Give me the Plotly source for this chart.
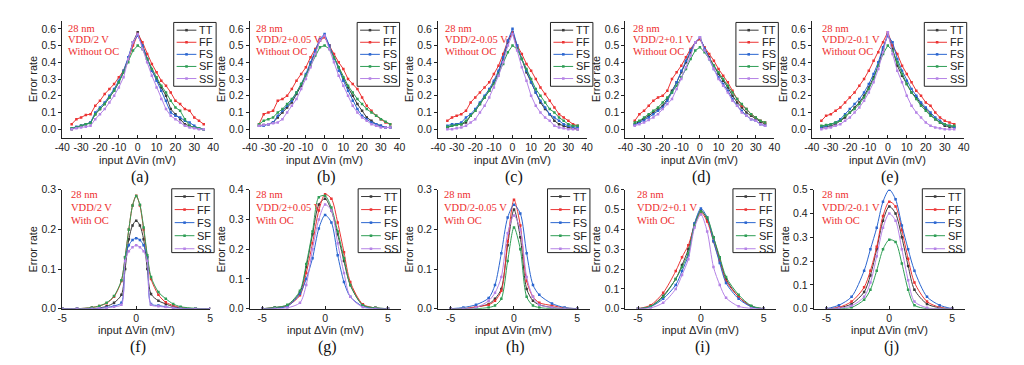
import plotly.graph_objects as go

W, H = 1024, 365

# ---------------- data ----------------
XT = [-35, -32.5, -30, -27.5, -25, -22.5, -20, -17.5, -15, -12.5, -10, -7.5, -5, -2.5, 0,
      2.5, 5, 7.5, 10, 12.5, 15, 17.5, 20, 22.5, 25, 27.5, 30, 32.5, 35]
XF = [-5, -4, -3, -2.5, -2, -1.5, -1, -0.75, -0.5, -0.25, 0, 0.25, 0.5, 0.75, 1, 1.5, 2, 2.5, 3, 4, 5]
XB = [-5, -4, -3, -2, -1.5, -1, -0.5, 0, 0.5, 1, 1.5, 2, 3, 4, 5]

SERIES = ["TT", "FF", "FS", "SF", "SS"]
COLORS = ["#3a3a3a", "#ec3434", "#2b66d0", "#2f9e55", "#b583e6"]

# (a) VDD/2 V, without OC
A_TT = [0, 0.01, 0.02, 0.03, 0.04, 0.09, 0.12, 0.15, 0.19, 0.23, 0.28, 0.34, 0.42, 0.52, 0.58, 0.5, 0.42, 0.35, 0.3, 0.25, 0.2, 0.12, 0.09, 0.06, 0.03, 0.02, 0.01, 0.005, 0]
A_FF = [0.03, 0.06, 0.07, 0.085, 0.09, 0.14, 0.17, 0.21, 0.24, 0.27, 0.31, 0.35, 0.42, 0.5, 0.57, 0.52, 0.45, 0.39, 0.34, 0.29, 0.26, 0.22, 0.17, 0.15, 0.12, 0.11, 0.07, 0.05, 0.03]
A_FS = [0.005, 0.015, 0.02, 0.03, 0.04, 0.1, 0.13, 0.16, 0.2, 0.24, 0.29, 0.35, 0.43, 0.52, 0.56, 0.5, 0.42, 0.35, 0.29, 0.23, 0.17, 0.1, 0.08, 0.07, 0.05, 0.04, 0.02, 0.005, 0]
A_SF = [0.005, 0.01, 0.02, 0.03, 0.035, 0.09, 0.12, 0.15, 0.19, 0.23, 0.28, 0.34, 0.4, 0.47, 0.5, 0.48, 0.42, 0.36, 0.31, 0.26, 0.22, 0.17, 0.13, 0.11, 0.06, 0.02, 0.01, 0.005, 0]
A_SS = [0, 0.005, 0.01, 0.015, 0.02, 0.06, 0.09, 0.12, 0.16, 0.2, 0.25, 0.31, 0.42, 0.52, 0.57, 0.48, 0.4, 0.32, 0.25, 0.18, 0.12, 0.08, 0.06, 0.04, 0.02, 0.01, 0.005, 0, 0]

# (b) VDD/2+0.05 V, without OC
B_TT = [0.02, 0.025, 0.03, 0.04, 0.07, 0.1, 0.13, 0.16, 0.21, 0.26, 0.32, 0.39, 0.46, 0.53, 0.56, 0.5, 0.43, 0.37, 0.3, 0.25, 0.2, 0.15, 0.11, 0.07, 0.05, 0.03, 0.02, 0.01, 0.01]
B_FF = [0.03, 0.09, 0.1, 0.11, 0.17, 0.18, 0.2, 0.24, 0.29, 0.33, 0.37, 0.43, 0.48, 0.53, 0.55, 0.5, 0.45, 0.4, 0.36, 0.3, 0.27, 0.24, 0.19, 0.14, 0.11, 0.08, 0.06, 0.04, 0.03]
B_FS = [0.02, 0.02, 0.03, 0.04, 0.08, 0.11, 0.14, 0.17, 0.22, 0.27, 0.33, 0.4, 0.47, 0.54, 0.57, 0.5, 0.42, 0.35, 0.29, 0.23, 0.17, 0.12, 0.08, 0.06, 0.04, 0.03, 0.02, 0.01, 0.01]
B_SF = [0.03, 0.05, 0.06, 0.07, 0.1, 0.12, 0.15, 0.18, 0.22, 0.27, 0.32, 0.38, 0.44, 0.49, 0.5, 0.48, 0.43, 0.37, 0.31, 0.26, 0.22, 0.18, 0.15, 0.12, 0.1, 0.08, 0.06, 0.045, 0.03]
B_SS = [0.02, 0.025, 0.03, 0.035, 0.04, 0.06, 0.1, 0.14, 0.18, 0.24, 0.3, 0.37, 0.45, 0.53, 0.56, 0.48, 0.4, 0.32, 0.26, 0.2, 0.14, 0.1, 0.07, 0.05, 0.03, 0.02, 0.01, 0.01, 0.01]

# (c) VDD/2-0.05 V, without OC
C_TT = [0.01, 0.02, 0.03, 0.03, 0.04, 0.08, 0.11, 0.15, 0.19, 0.23, 0.28, 0.34, 0.42, 0.52, 0.58, 0.49, 0.42, 0.34, 0.28, 0.22, 0.16, 0.12, 0.09, 0.05, 0.03, 0.02, 0.01, 0.005, 0]
C_FF = [0.05, 0.07, 0.08, 0.09, 0.11, 0.16, 0.19, 0.22, 0.25, 0.28, 0.33, 0.38, 0.45, 0.53, 0.58, 0.5, 0.45, 0.39, 0.35, 0.3, 0.25, 0.21, 0.17, 0.13, 0.09, 0.07, 0.05, 0.03, 0.02]
C_FS = [0.02, 0.03, 0.03, 0.04, 0.07, 0.09, 0.12, 0.16, 0.2, 0.24, 0.29, 0.35, 0.43, 0.53, 0.6, 0.5, 0.42, 0.35, 0.28, 0.22, 0.17, 0.13, 0.09, 0.07, 0.05, 0.03, 0.02, 0.015, 0.01]
C_SF = [0.015, 0.02, 0.025, 0.03, 0.05, 0.08, 0.11, 0.15, 0.19, 0.23, 0.27, 0.33, 0.39, 0.46, 0.5, 0.48, 0.42, 0.36, 0.3, 0.24, 0.2, 0.16, 0.12, 0.1, 0.07, 0.05, 0.03, 0.02, 0.02]
C_SS = [0, 0, 0.005, 0.01, 0.02, 0.04, 0.06, 0.1, 0.14, 0.19, 0.25, 0.32, 0.4, 0.5, 0.57, 0.47, 0.37, 0.29, 0.2, 0.14, 0.1, 0.07, 0.05, 0.02, 0.01, 0.005, 0, 0, 0]

# (d) VDD/2+0.1 V, without OC
D_TT = [0.03, 0.045, 0.06, 0.08, 0.1, 0.12, 0.14, 0.18, 0.23, 0.28, 0.34, 0.4, 0.46, 0.52, 0.54, 0.48, 0.43, 0.38, 0.33, 0.29, 0.25, 0.2, 0.16, 0.13, 0.1, 0.08, 0.06, 0.045, 0.03]
D_FF = [0.05, 0.09, 0.11, 0.14, 0.17, 0.19, 0.2, 0.23, 0.3, 0.34, 0.38, 0.43, 0.48, 0.52, 0.54, 0.49, 0.45, 0.41, 0.36, 0.32, 0.28, 0.23, 0.18, 0.14, 0.12, 0.09, 0.07, 0.05, 0.04]
D_FS = [0.025, 0.04, 0.05, 0.07, 0.09, 0.11, 0.13, 0.17, 0.22, 0.28, 0.35, 0.41, 0.47, 0.52, 0.55, 0.48, 0.42, 0.36, 0.31, 0.27, 0.23, 0.18, 0.14, 0.11, 0.08, 0.06, 0.05, 0.03, 0.02]
D_SF = [0.04, 0.05, 0.07, 0.09, 0.11, 0.13, 0.16, 0.19, 0.22, 0.26, 0.31, 0.36, 0.42, 0.47, 0.49, 0.46, 0.42, 0.38, 0.34, 0.3, 0.26, 0.22, 0.18, 0.15, 0.12, 0.09, 0.07, 0.05, 0.04]
D_SS = [0.02, 0.03, 0.04, 0.055, 0.07, 0.09, 0.12, 0.15, 0.18, 0.24, 0.3, 0.37, 0.44, 0.52, 0.55, 0.47, 0.42, 0.36, 0.3, 0.26, 0.22, 0.17, 0.14, 0.1, 0.08, 0.06, 0.05, 0.03, 0.02]

# (e) VDD/2-0.1 V, without OC
E_TT = [0.01, 0.015, 0.02, 0.03, 0.05, 0.07, 0.1, 0.13, 0.16, 0.2, 0.25, 0.31, 0.38, 0.48, 0.57, 0.48, 0.38, 0.32, 0.27, 0.22, 0.19, 0.15, 0.12, 0.09, 0.06, 0.04, 0.02, 0.015, 0.01]
E_FF = [0.05, 0.08, 0.09, 0.11, 0.13, 0.16, 0.19, 0.22, 0.26, 0.3, 0.35, 0.41, 0.46, 0.52, 0.58, 0.5, 0.45, 0.38, 0.33, 0.28, 0.23, 0.2, 0.16, 0.14, 0.1, 0.07, 0.05, 0.04, 0.03]
E_FS = [0.015, 0.02, 0.03, 0.04, 0.06, 0.09, 0.12, 0.15, 0.18, 0.22, 0.27, 0.33, 0.4, 0.49, 0.56, 0.52, 0.42, 0.35, 0.29, 0.24, 0.2, 0.16, 0.13, 0.1, 0.07, 0.05, 0.03, 0.02, 0.015]
E_SF = [0.02, 0.025, 0.03, 0.04, 0.05, 0.08, 0.1, 0.12, 0.15, 0.19, 0.24, 0.3, 0.38, 0.45, 0.5, 0.47, 0.4, 0.33, 0.27, 0.22, 0.18, 0.14, 0.11, 0.08, 0.06, 0.04, 0.03, 0.02, 0.02]
E_SS = [0, 0.005, 0.01, 0.02, 0.03, 0.05, 0.07, 0.1, 0.13, 0.17, 0.22, 0.28, 0.36, 0.46, 0.58, 0.45, 0.35, 0.28, 0.2, 0.14, 0.1, 0.07, 0.04, 0.02, 0.01, 0.005, 0, 0, 0]

# (f) VDD/2 V, with OC  (x = XF)
F_TT = [0, 0, 0, 0.002, 0.006, 0.015, 0.035, 0.1, 0.175, 0.21, 0.222, 0.21, 0.175, 0.1, 0.037, 0.02, 0.012, 0.005, 0.002, 0, 0]
F_FF = [0, 0, 0.003, 0.007, 0.014, 0.03, 0.07, 0.13, 0.2, 0.26, 0.285, 0.26, 0.2, 0.13, 0.075, 0.035, 0.016, 0.008, 0.003, 0, 0]
F_FS = [0, 0, 0, 0.001, 0.003, 0.007, 0.015, 0.13, 0.16, 0.173, 0.178, 0.173, 0.16, 0.13, 0.012, 0.008, 0.005, 0.002, 0.001, 0, 0]
F_SF = [0, 0, 0.003, 0.007, 0.015, 0.032, 0.072, 0.13, 0.2, 0.26, 0.284, 0.262, 0.205, 0.135, 0.08, 0.042, 0.025, 0.012, 0.005, 0.001, 0]
F_SS = [0, 0, 0, 0.001, 0.002, 0.005, 0.01, 0.12, 0.145, 0.155, 0.16, 0.155, 0.145, 0.12, 0.01, 0.006, 0.004, 0.002, 0, 0, 0]

# (g) VDD/2+0.05 V, with OC  (x = XB)
G_TT = [0, 0.004, 0.012, 0.055, 0.14, 0.25, 0.35, 0.37, 0.33, 0.25, 0.16, 0.08, 0.012, 0.003, 0]
G_FF = [0, 0.003, 0.01, 0.045, 0.12, 0.22, 0.33, 0.385, 0.37, 0.29, 0.19, 0.09, 0.015, 0.002, 0]
G_FS = [0, 0.002, 0.008, 0.05, 0.1, 0.17, 0.27, 0.315, 0.29, 0.18, 0.09, 0.04, 0.008, 0.001, 0]
G_SF = [0, 0.004, 0.013, 0.06, 0.15, 0.26, 0.375, 0.38, 0.34, 0.26, 0.17, 0.08, 0.012, 0.003, 0]
G_SS = [0, 0, 0.003, 0.02, 0.08, 0.2, 0.3, 0.35, 0.33, 0.22, 0.12, 0.04, 0.005, 0, 0]

# (h) VDD/2-0.05 V, with OC
H_TT = [0, 0, 0.004, 0.012, 0.025, 0.05, 0.16, 0.25, 0.18, 0.05, 0.02, 0.01, 0.003, 0, 0]
H_FF = [0, 0, 0.005, 0.01, 0.02, 0.045, 0.17, 0.275, 0.21, 0.07, 0.03, 0.015, 0.008, 0.002, 0]
H_FS = [0, 0.003, 0.01, 0.027, 0.06, 0.14, 0.23, 0.262, 0.24, 0.14, 0.06, 0.035, 0.013, 0.003, 0]
H_SF = [0, 0, 0, 0.003, 0.008, 0.025, 0.12, 0.205, 0.15, 0.03, 0.008, 0.003, 0, 0, 0]
H_SS = [0, 0, 0.003, 0.02, 0.04, 0.08, 0.19, 0.235, 0.2, 0.08, 0.03, 0.01, 0.003, 0, 0]

# (i) VDD/2+0.1 V, with OC
I_TT = [0, 0.012, 0.065, 0.15, 0.22, 0.3, 0.43, 0.495, 0.45, 0.36, 0.25, 0.15, 0.06, 0.012, 0]
I_FF = [0, 0.018, 0.08, 0.19, 0.26, 0.32, 0.42, 0.485, 0.44, 0.34, 0.24, 0.14, 0.06, 0.012, 0]
I_FS = [0, 0.01, 0.05, 0.12, 0.19, 0.27, 0.43, 0.505, 0.46, 0.34, 0.23, 0.13, 0.05, 0.01, 0]
I_SF = [0, 0.012, 0.06, 0.15, 0.21, 0.28, 0.42, 0.49, 0.46, 0.36, 0.26, 0.16, 0.07, 0.015, 0]
I_SS = [0, 0.004, 0.03, 0.1, 0.17, 0.25, 0.41, 0.475, 0.39, 0.21, 0.12, 0.055, 0.012, 0.002, 0]

# (j) VDD/2-0.1 V, with OC
J_TT = [0, 0.004, 0.02, 0.07, 0.14, 0.25, 0.37, 0.43, 0.4, 0.3, 0.18, 0.08, 0.02, 0.004, 0]
J_FF = [0, 0.006, 0.03, 0.09, 0.16, 0.26, 0.39, 0.45, 0.43, 0.33, 0.21, 0.11, 0.03, 0.006, 0]
J_FS = [0, 0.015, 0.05, 0.16, 0.25, 0.34, 0.45, 0.5, 0.46, 0.35, 0.25, 0.16, 0.05, 0.015, 0]
J_SF = [0, 0, 0.005, 0.038, 0.08, 0.16, 0.25, 0.29, 0.28, 0.19, 0.08, 0.015, 0, 0, 0]
J_SS = [0, 0.002, 0.012, 0.05, 0.11, 0.22, 0.34, 0.4, 0.37, 0.25, 0.12, 0.03, 0.004, 0, 0]

TOP_XTICKS = [-40, -30, -20, -10, 0, 10, 20, 30, 40]
BOT_XTICKS = [-5, 0, 5]

PANELS = [
    dict(lab="(a)", sub="VDD/2 V", oc="Without OC", x=XT, ys=[A_TT, A_FF, A_FS, A_SF, A_SS],
         xr=[-40, 40], xt=TOP_XTICKS, yr=[-0.05, 0.65], ymax=0.6, px=(55, 208), py=(15, 136),
         leg=168, tx=59, spline=False),
    dict(lab="(b)", sub="VDD/2+0.05 V", oc="Without OC", x=XT, ys=[B_TT, B_FF, B_FS, B_SF, B_SS],
         xr=[-40, 40], xt=TOP_XTICKS, yr=[-0.05, 0.65], ymax=0.6, px=(245, 397), py=(15, 136),
         leg=354, tx=249, spline=False),
    dict(lab="(c)", sub="VDD/2-0.05 V", oc="Without OC", x=XT, ys=[C_TT, C_FF, C_FS, C_SF, C_SS],
         xr=[-40, 40], xt=TOP_XTICKS, yr=[-0.05, 0.65], ymax=0.6, px=(436, 587), py=(15, 136),
         leg=550, tx=441, spline=False),
    dict(lab="(d)", sub="VDD/2+0.1 V", oc="Without OC", x=XT, ys=[D_TT, D_FF, D_FS, D_SF, D_SS],
         xr=[-40, 40], xt=TOP_XTICKS, yr=[-0.05, 0.65], ymax=0.6, px=(626, 777), py=(15, 136),
         leg=738, tx=632, spline=False),
    dict(lab="(e)", sub="VDD/2-0.1 V", oc="Without OC", x=XT, ys=[E_TT, E_FF, E_FS, E_SF, E_SS],
         xr=[-40, 40], xt=TOP_XTICKS, yr=[-0.05, 0.65], ymax=0.6, px=(815, 969), py=(15, 136),
         leg=929, tx=823, spline=False),
    dict(lab="(f)", sub="VDD/2 V", oc="With OC", x=XF, ys=[F_TT, F_FF, F_FS, F_SF, F_SS],
         xr=[-5, 5], xt=BOT_XTICKS, yr=[0, 0.3], ymax=0.3, px=(55, 205), py=(190, 313),
         leg=166, tx=62, spline=True),
    dict(lab="(g)", sub="VDD/2+0.05 V", oc="With OC", x=XB, ys=[G_TT, G_FF, G_FS, G_SF, G_SS],
         xr=[-6, 6], xt=BOT_XTICKS, yr=[0, 0.4], ymax=0.4, px=(245, 398), py=(190, 313),
         leg=355, tx=249, spline=True),
    dict(lab="(h)", sub="VDD/2-0.05 V", oc="With OC", x=XB, ys=[H_TT, H_FF, H_FS, H_SF, H_SS],
         xr=[-6, 6], xt=BOT_XTICKS, yr=[0, 0.3], ymax=0.3, px=(436, 590), py=(190, 313),
         leg=547, tx=440, spline=True),
    dict(lab="(i)", sub="VDD/2+0.1 V", oc="With OC", x=XB, ys=[I_TT, I_FF, I_FS, I_SF, I_SS],
         xr=[-6, 6], xt=BOT_XTICKS, yr=[0, 0.6], ymax=0.6, px=(626, 779), py=(190, 313),
         leg=735, tx=636, spline=True),
    dict(lab="(j)", sub="VDD/2-0.1 V", oc="With OC", x=XB, ys=[J_TT, J_FF, J_FS, J_SF, J_SS],
         xr=[-6, 6], xt=BOT_XTICKS, yr=[0, 0.5], ymax=0.5, px=(817, 970), py=(190, 313),
         leg=927, tx=823, spline=True),
]


def fx(px):
    return px / W


def fy(py):
    return 1 - py / H


SANS = "Liberation Sans, Arial, sans-serif"
SERIF = "Liberation Serif, Times New Roman, serif"
RED = "#ee2d2d"
TICKFONT = dict(size=10.5, family=SANS, color="#222")

fig = go.Figure()
layout = dict(
    width=W, height=H, autosize=False,
    margin=dict(l=0, r=0, t=0, b=0),
    paper_bgcolor="white", plot_bgcolor="white",
    showlegend=False,
    font=dict(family=SANS, size=11, color="#222"),
)
annotations = []
shapes = []

for i, p in enumerate(PANELS):
    n = "" if i == 0 else str(i + 1)
    xa, ya = "x" + n, "y" + n
    yticks = [round(k * 0.1, 1) for k in range(int(round(p["ymax"] * 10)) + 1)]
    layout["xaxis" + n] = dict(
        domain=[fx(p["px"][0]), fx(p["px"][1])], range=p["xr"], anchor=ya,
        tickmode="array", tickvals=p["xt"], ticktext=[str(v) for v in p["xt"]],
        tickangle=0, ticks="inside", ticklen=3, tickwidth=1,
        tickcolor="#222", showline=True, linecolor="#222", linewidth=1,
        showgrid=False, zeroline=False, tickfont=TICKFONT,
    )
    layout["yaxis" + n] = dict(
        domain=[fy(p["py"][1]), fy(p["py"][0])], range=p["yr"], anchor=xa,
        tickmode="array", tickvals=yticks, ticktext=["%.1f" % v for v in yticks],
        ticks="outside", ticklen=3, tickwidth=1, tickcolor="#222",
        showline=True, linecolor="#222", linewidth=1,
        showgrid=False, zeroline=False, tickfont=TICKFONT,
        title=dict(text="Error rate", standoff=1, font=dict(size=11, family=SANS, color="#222")),
    )
    for s, name in enumerate(SERIES):
        fig.add_trace(go.Scatter(
            x=p["x"], y=p["ys"][s], name=name, xaxis=xa, yaxis=ya,
            mode="lines+markers",
            line=dict(color=COLORS[s], width=1, shape="spline" if p["spline"] else "linear",
                      smoothing=0.8),
            marker=dict(color=COLORS[s], size=2.5, symbol="square"),
            cliponaxis=True,
        ))

    cx = (p["px"][0] + p["px"][1]) / 2
    top = p["py"][0] < 100
    # x-axis title
    annotations.append(dict(text="input ΔVin (mV)", x=fx(cx), y=fy(159 if top else 335),
                            xref="paper", yref="paper", showarrow=False,
                            xanchor="center", yanchor="middle",
                            font=dict(size=11, family=SANS, color="#222")))
    # panel label
    annotations.append(dict(text=p["lab"], x=fx(cx + 2), y=fy(177 if top else 353),
                            xref="paper", yref="paper", showarrow=False,
                            xanchor="center", yanchor="middle",
                            font=dict(size=16, family=SERIF, color="#111")))
    # red condition text
    y0 = p["py"][0] + (8 if top else 5)
    step = 12 if top else 13.5
    for k, t in enumerate(["28 nm", p["sub"], p["oc"]]):
        annotations.append(dict(text=t, x=fx(p["tx"]), y=fy(y0 + k * step),
                                xref="paper", yref="paper", showarrow=False,
                                xanchor="left", yanchor="middle",
                                font=dict(size=10.5, family=SERIF, color=RED)))
    # legend box
    L = p["leg"]
    T = 17 if top else 189
    lw, lh = 43, 66
    istep = 12.5 if top else 13.5
    shapes.append(dict(type="rect", xref="paper", yref="paper",
                       x0=fx(L), x1=fx(L + lw), y0=fy(T + lh), y1=fy(T),
                       line=dict(color="#222", width=1), fillcolor="white", layer="above"))
    for s, name in enumerate(SERIES):
        yy = T + 8 + s * istep
        shapes.append(dict(type="line", xref="paper", yref="paper",
                           x0=fx(L + 3), x1=fx(L + 23), y0=fy(yy), y1=fy(yy),
                           line=dict(color=COLORS[s], width=1), layer="above"))
        shapes.append(dict(type="rect", xref="paper", yref="paper",
                           x0=fx(L + 11.7), x1=fx(L + 14.3), y0=fy(yy + 1.3), y1=fy(yy - 1.3),
                           line=dict(width=0), fillcolor=COLORS[s], layer="above"))
        annotations.append(dict(text=name, x=fx(L + 24), y=fy(yy),
                                xref="paper", yref="paper", showarrow=False,
                                xanchor="left", yanchor="middle",
                                font=dict(size=11, family=SANS, color="#222")))

layout["annotations"] = annotations
layout["shapes"] = shapes
fig.update_layout(**layout)

fig.write_html("out.html", include_plotlyjs=True, full_html=True,
               config={"displayModeBar": False, "staticPlot": True},
               post_script="document.body.style.margin='0';document.body.style.overflow='hidden';")
